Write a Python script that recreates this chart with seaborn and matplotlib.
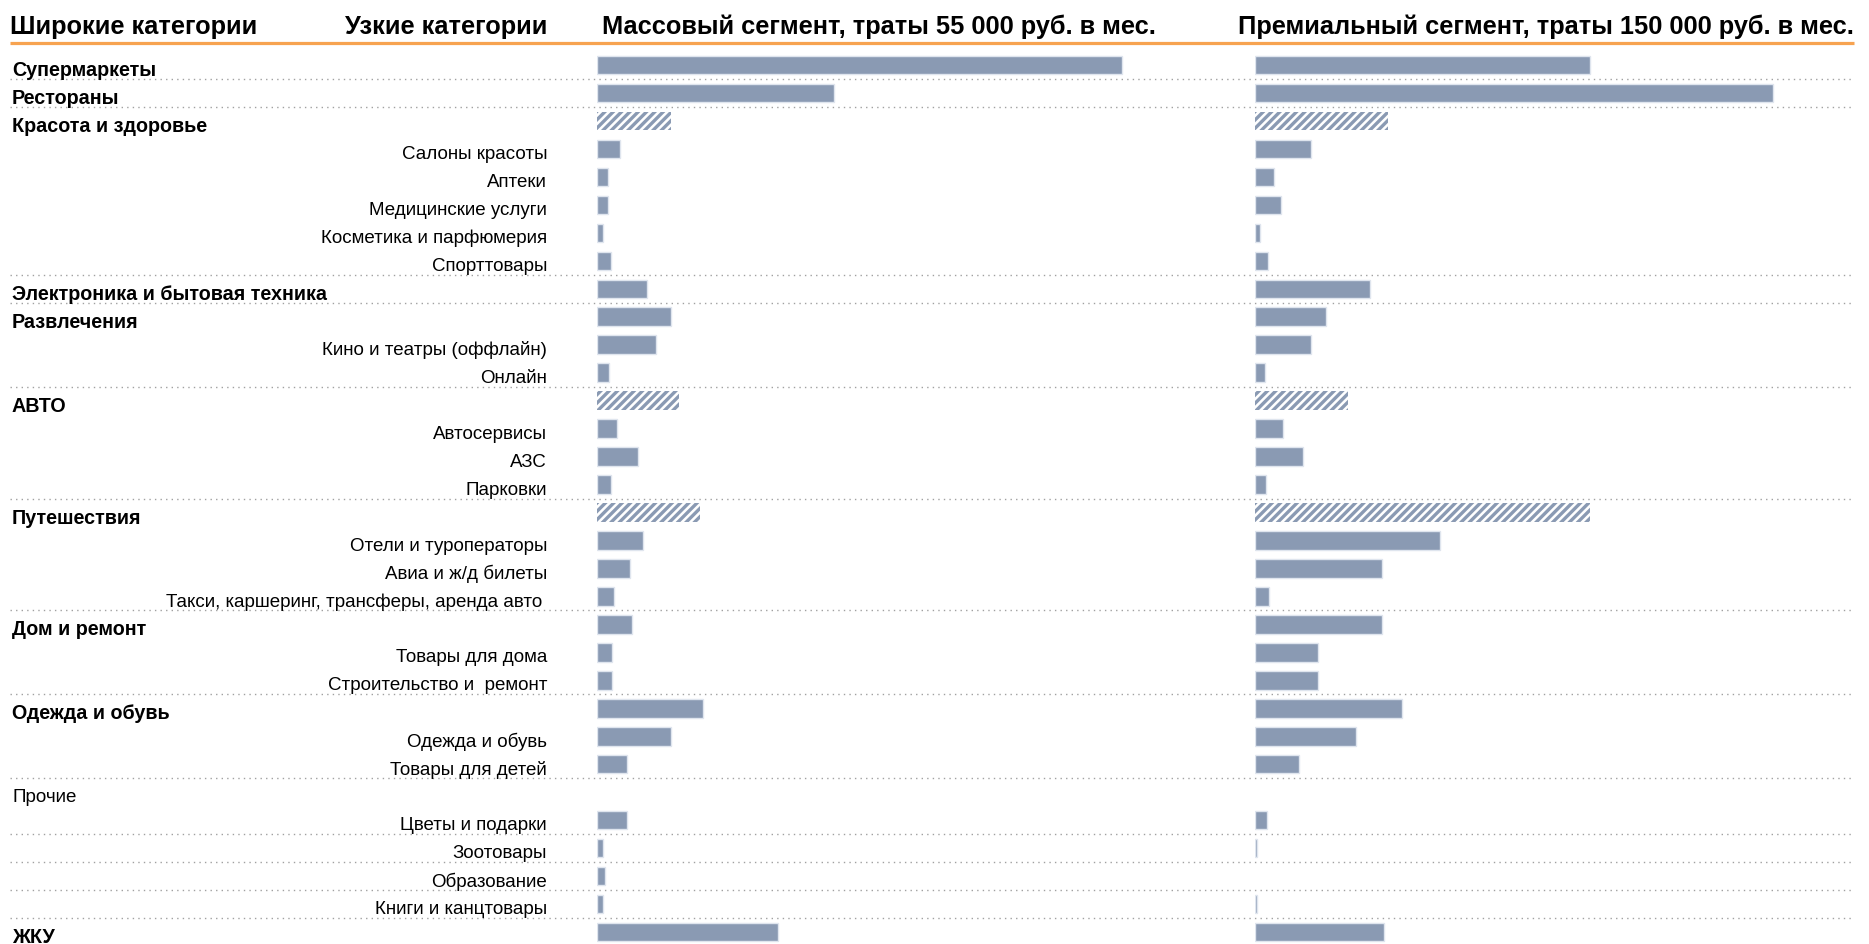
import matplotlib
matplotlib.use("Agg")
import matplotlib.pyplot as plt
import numpy as np
import pandas as pd
import seaborn as sns

# Row labels, top to bottom
labels = [
    "Супермаркеты", "Рестораны", "Красота и здоровье", "Салоны красоты", "Аптеки",
    "Медицинские услуги", "Косметика и парфюмерия", "Спорттовары",
    "Электроника и бытовая техника", "Развлечения", "Кино и театры (оффлайн)", "Онлайн",
    "АВТО", "Автосервисы", "АЗС", "Парковки", "Путешествия", "Отели и туроператоры",
    "Авиа и ж/д билеты", "Такси, каршеринг, трансферы, аренда авто ", "Дом и ремонт",
    "Товары для дома", "Строительство и  ремонт", "Одежда и обувь", "Одежда и обувь",
    "Товары для детей", "Прочие", "Цветы и подарки", "Зоотовары", "Образование",
    "Книги и канцтовары", "ЖКУ",
]
# B = broad category (bold), N = narrow category, O = broad category in plain type
levels = [
    "B", "B", "B", "N", "N", "N", "N", "N", "B", "B", "N", "N", "B", "N", "N", "N",
    "B", "N", "N", "N", "B", "N", "N", "B", "N", "N", "O", "N", "N", "N", "N", "B",
]
# Share of monthly spending, %
mass = [
    34.6, 15.6, 4.9, 1.5, 0.7, 0.7, 0.4, 0.9, 3.3, 4.9, 3.9, 0.8, 5.4, 1.3, 2.7, 0.9,
    6.8, 3.0, 2.2, 1.1, 2.3, 1.0, 1.0, 7.0, 4.9, 2.0, np.nan, 2.0, 0.4, 0.55, 0.4, 11.9,
]
premium = [
    16.6, 25.7, 6.6, 2.8, 0.95, 1.3, 0.25, 0.65, 5.7, 3.5, 2.8, 0.5, 4.6, 1.4, 2.4, 0.55,
    16.6, 9.2, 6.3, 0.7, 6.3, 3.1, 3.1, 7.3, 5.0, 2.2, np.nan, 0.6, 0.1, np.nan, 0.1, 6.4,
]
# Aggregates of several narrow categories are drawn hatched
aggregate_rows = [2, 12, 16]
# Dotted separators are drawn below these rows
separator_rows = [0, 1, 7, 8, 11, 15, 19, 22, 25, 27, 28, 29, 30]

headers = [
    "Широкие категории", "Узкие категории",
    "Массовый сегмент, траты 55 000 руб. в мес.",
    "Премиальный сегмент, траты 150 000 руб. в мес.",
]

BAR = "#8a9ab3"
EDGE = "#dfe5ee"
ORANGE = "#f7a350"
FONT = "Liberation Sans"

sns.set_theme(style="white")
plt.rcParams["font.family"] = [FONT, "DejaVu Sans"]
plt.rcParams["hatch.linewidth"] = 2.4
plt.rcParams["text.color"] = "black"

W, H = 1869, 944
fig = plt.figure(figsize=(W / 100, H / 100), dpi=100)
fig.patch.set_facecolor("white")

n = len(labels)
row_px, first_px = 27.97, 65.0
ylim = ((H - first_px) / row_px, -first_px / row_px)

df = pd.DataFrame({"row": np.arange(n), "mass": mass, "premium": premium})

# Background layer: labels, headers and separators
bg = fig.add_axes([0, 0, 1, 1])
bg.set_xlim(0, W)
bg.set_ylim(*ylim)
bg.axis("off")

hy = -1.36
hkw = dict(fontsize=18.3, fontweight="bold", va="center", color="black")
bg.text(10, hy, headers[0], ha="left", **hkw)
bg.text(547, hy, headers[1], ha="right", **hkw)
bg.text(602, hy, headers[2], ha="left", **hkw)
bg.text(1854, hy, headers[3], ha="right", **hkw)
bg.plot([10, 1854], [-0.79, -0.79], color=ORANGE, lw=2.3, solid_capstyle="butt")

for r, (lab, lev) in enumerate(zip(labels, levels)):
    if lev == "N":
        bg.text(547, r + 0.2, lab, fontsize=13.5, ha="right", va="center", color="black")
    elif lev == "B":
        bg.text(12, r + 0.2, lab, fontsize=14.2, ha="left", va="center",
                fontweight="bold", color="black")
    else:
        bg.text(12, r + 0.2, lab, fontsize=13.5, ha="left", va="center", color="black")

for r in separator_rows:
    bg.plot([10, 1854], [r + 0.5, r + 0.5], color="#a0a0a0", lw=1.0,
            linestyle=(0, (1, 3)))

# Bar panels
panels = [("mass", 597, 648, 42.7), ("premium", 1255, 598, 29.66)]
for col, x0, width, xmax in panels:
    ax = fig.add_axes([x0 / W, 0, width / W, 1])
    ax.patch.set_alpha(0)
    d = df.dropna(subset=[col])
    sns.barplot(data=d, x=col, y="row", orient="h", native_scale=True, width=0.66,
                color=BAR, saturation=1, edgecolor=EDGE, linewidth=1.0, ax=ax)
    for p in ax.patches:
        r = int(round(p.get_y() + p.get_height() / 2))
        if r in aggregate_rows:
            p.set_facecolor("white")
            p.set_edgecolor(BAR)
            p.set_hatch("////")
            p.set_linewidth(0)
    ax.set_xlim(0, xmax)
    ax.set_ylim(*ylim)
    ax.axis("off")

fig.savefig("out.png", dpi=100, facecolor="white")
